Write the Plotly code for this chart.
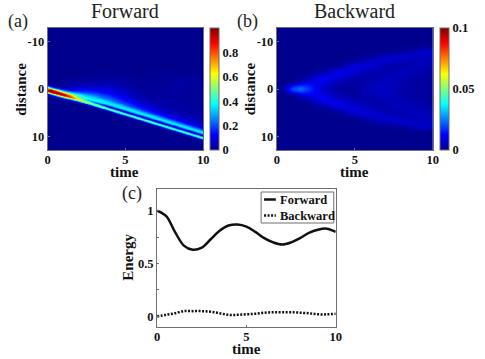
import numpy as np
import plotly.graph_objects as go

W, H = 485, 359
SERIF = "Liberation Serif"
FRAME = "#6e6e6e"

JET = [
    [0, "#00008f"],
    [0.125, "#0000ff"],
    [0.375, "#00ffff"],
    [0.625, "#ffff00"],
    [0.875, "#ff0000"],
    [1, "#800000"],
]

# forward map: rows are offsets from the beam, columns are times
FWD_TIME = [0, 0.5, 1, 1.5, 2, 2.5, 3, 4, 5, 6, 7, 8, 9, 10]
FWD_OFFSET = [-13, -11, -9, -7, -6, -5, -4, -3, -2, -1.5, -1.1, -0.8, -0.5, -0.25, 0, 0.25, 0.5, 0.8, 1.2]
FWD_Z = [
    [0, 0, 0, 0, 0, 0, 0, 0, 0, 0, 0, 0, 0, 0.01],
    [0, 0, 0, 0, 0, 0, 0, 0, 0, 0, 0, 0.01, 0.02, 0.02],
    [0, 0, 0, 0, 0, 0, 0, 0, 0, 0, 0.008, 0.02, 0.012, 0.012],
    [0, 0, 0, 0, 0, 0, 0, 0.008, 0.02, 0.01, 0.012, 0.02, 0.012, 0.015],
    [0, 0, 0, 0, 0, 0, 0, 0.03, 0.03, 0.015, 0.015, 0.022, 0.015, 0.02],
    [0, 0, 0, 0, 0, 0.01, 0.02, 0.05, 0.05, 0.025, 0.02, 0.025, 0.02, 0.025],
    [0, 0, 0, 0.005, 0.015, 0.03, 0.05, 0.09, 0.08, 0.05, 0.035, 0.03, 0.03, 0.03],
    [0, 0, 0.005, 0.02, 0.05, 0.08, 0.12, 0.15, 0.12, 0.09, 0.07, 0.06, 0.06, 0.05],
    [0, 0, 0.01, 0.05, 0.12, 0.2, 0.24, 0.24, 0.2, 0.17, 0.15, 0.13, 0.12, 0.11],
    [0, 0.01, 0.03, 0.12, 0.25, 0.3, 0.33, 0.33, 0.32, 0.3, 0.29, 0.28, 0.27, 0.27],
    [0.06, 0.1, 0.16, 0.3, 0.38, 0.37, 0.37, 0.37, 0.38, 0.38, 0.38, 0.38, 0.38, 0.38],
    [0.3, 0.35, 0.42, 0.5, 0.45, 0.4, 0.38, 0.3, 0.28, 0.26, 0.26, 0.26, 0.26, 0.26],
    [0.7, 0.72, 0.7, 0.65, 0.45, 0.34, 0.22, 0.06, 0.05, 0.05, 0.05, 0.05, 0.05, 0.05],
    [0.95, 0.95, 0.92, 0.78, 0.58, 0.46, 0.36, 0.26, 0.24, 0.24, 0.24, 0.24, 0.24, 0.24],
    [0.98, 0.99, 0.95, 0.8, 0.66, 0.6, 0.56, 0.54, 0.52, 0.52, 0.52, 0.5, 0.5, 0.5],
    [0.88, 0.85, 0.75, 0.55, 0.4, 0.36, 0.33, 0.3, 0.28, 0.28, 0.28, 0.28, 0.28, 0.28],
    [0.5, 0.45, 0.35, 0.22, 0.12, 0.08, 0.06, 0.05, 0.05, 0.05, 0.05, 0.05, 0.05, 0.05],
    [0.1, 0.08, 0.05, 0.03, 0, 0, 0, 0, 0, 0, 0, 0, 0, 0],
    [0, 0, 0, 0, 0, 0, 0, 0, 0, 0, 0, 0, 0, 0],
]

# backward map: rows are |distance|, columns are times
BWD_TIME = [0, 0.5, 1, 1.5, 2, 3, 4, 5, 6, 7, 8, 9, 10]
BWD_DIST = [0, 0.5, 1, 1.5, 2, 3, 4, 5, 6, 7, 8, 9, 10]
BWD_Z = [
    [0, 0.006, 0.02, 0.024, 0.018, 0.006, 0.002, 0.002, 0.005, 0.006, 0.003, 0.002, 0.002],
    [0, 0.002, 0.016, 0.02, 0.016, 0.007, 0.002, 0.002, 0.005, 0.006, 0.003, 0.002, 0.002],
    [0, 0, 0.006, 0.012, 0.013, 0.008, 0.003, 0.002, 0.004, 0.006, 0.003, 0.002, 0.002],
    [0, 0, 0.001, 0.005, 0.009, 0.01, 0.004, 0.002, 0.004, 0.005, 0.004, 0.002, 0.002],
    [0, 0, 0, 0.002, 0.005, 0.012, 0.006, 0.003, 0.003, 0.005, 0.004, 0.002, 0.002],
    [0, 0, 0, 0, 0.001, 0.008, 0.011, 0.005, 0.003, 0.004, 0.005, 0.003, 0.002],
    [0, 0, 0, 0, 0, 0.001, 0.008, 0.009, 0.005, 0.003, 0.005, 0.004, 0.003],
    [0, 0, 0, 0, 0, 0, 0.001, 0.008, 0.008, 0.004, 0.003, 0.005, 0.004],
    [0, 0, 0, 0, 0, 0, 0, 0.001, 0.006, 0.008, 0.005, 0.004, 0.005],
    [0, 0, 0, 0, 0, 0, 0, 0, 0.001, 0.005, 0.007, 0.006, 0.006],
    [0, 0, 0, 0, 0, 0, 0, 0, 0, 0, 0.001, 0.005, 0.007],
    [0, 0, 0, 0, 0, 0, 0, 0, 0, 0, 0, 0, 0.001],
    [0, 0, 0, 0, 0, 0, 0, 0, 0, 0, 0, 0, 0],
]

# energy curves
ENERGY_TIME = [0, 0.5, 1, 1.5, 2, 2.5, 3, 3.5, 4, 4.5, 5, 5.5, 6, 6.5, 7, 7.5, 8, 8.5, 9, 9.5, 10]
ENERGY_FWD = [1, 0.95, 0.8, 0.67, 0.63, 0.65, 0.73, 0.81, 0.86, 0.87, 0.85, 0.8, 0.74, 0.7, 0.68, 0.7, 0.74, 0.79, 0.82, 0.83, 0.8]
ENERGY_BWD = [0, 0.015, 0.03, 0.05, 0.05, 0.05, 0.045, 0.03, 0.015, 0.015, 0.02, 0.025, 0.035, 0.04, 0.04, 0.04, 0.035, 0.03, 0.02, 0.02, 0.025]

T_FINE = np.linspace(0, 10, 201)
D_FINE = np.linspace(-12.8, 12.8, 513)
BEAM_START = 0.3


def resample_forward():
    # the beam runs along d = t + BEAM_START, so smooth along it rather than along the grid
    table = np.array(FWD_Z)
    z = np.zeros((len(D_FINE), len(T_FINE)))
    for j, t in enumerate(T_FINE):
        profile = [np.interp(t, FWD_TIME, row) for row in table]
        z[:, j] = np.interp(D_FINE - (t + BEAM_START), FWD_OFFSET, profile, left=0, right=0)
    return z


def resample_backward():
    table = np.array(BWD_Z)
    z = np.zeros((len(D_FINE), len(T_FINE)))
    for j, t in enumerate(T_FINE):
        profile = [np.interp(t, BWD_TIME, row) for row in table]
        z[:, j] = np.interp(np.abs(D_FINE), BWD_DIST, profile, right=0)
    return z


def px_x(a, b):
    return [a / W, b / W]


def px_y(top, bottom):
    return [1 - bottom / H, 1 - top / H]


bold_font = dict(family=SERIF, size=12.5, color="#111111", weight="bold")
title_font = dict(family=SERIF, size=15, color="#111111", weight="bold")


def colorbar(left, ticks, labels):
    return dict(
        x=left / W,
        xanchor="left",
        xpad=0,
        ypad=0,
        y=1 - 28 / H,
        yanchor="top",
        len=122 / H,
        lenmode="fraction",
        thickness=9,
        thicknessmode="pixels",
        tickmode="array",
        tickvals=ticks,
        ticktext=labels,
        ticks="",
        outlinecolor=FRAME,
        outlinewidth=1,
        tickfont=bold_font,
    )


fig = go.Figure()
fig.add_trace(
    go.Heatmap(
        x=T_FINE,
        y=D_FINE,
        z=resample_forward(),
        zmin=0,
        zmax=1,
        zsmooth="best",
        colorscale=JET,
        colorbar=colorbar(211, [0, 0.2, 0.4, 0.6, 0.8], ["0", "0.2", "0.4", "0.6", "0.8"]),
        xaxis="x",
        yaxis="y",
    )
)
fig.add_trace(
    go.Heatmap(
        x=T_FINE,
        y=D_FINE,
        z=resample_backward(),
        zmin=0,
        zmax=0.1,
        zsmooth="best",
        colorscale=JET,
        colorbar=colorbar(445, [0, 0.05, 0.1], ["0", "0.05", "0.1"]),
        xaxis="x2",
        yaxis="y2",
    )
)
fig.add_trace(
    go.Scatter(
        x=ENERGY_TIME,
        y=ENERGY_FWD,
        mode="lines",
        name="Forward",
        line=dict(color="#111111", width=2.5, shape="spline"),
        showlegend=False,
        xaxis="x3",
        yaxis="y3",
    )
)
fig.add_trace(
    go.Scatter(
        x=ENERGY_TIME,
        y=ENERGY_BWD,
        mode="lines",
        name="Backward",
        line=dict(color="#111111", width=2.5, dash="2px,1.5px", shape="spline"),
        showlegend=False,
        xaxis="x3",
        yaxis="y3",
    )
)

axis_common = dict(
    showgrid=False,
    zeroline=False,
    showline=True,
    mirror=True,
    linecolor=FRAME,
    linewidth=1,
    ticks="inside",
    ticklen=2,
    tickcolor=FRAME,
    tickfont=bold_font,
)


def time_axis(domain, anchor):
    return dict(
        axis_common,
        domain=domain,
        anchor=anchor,
        range=[0, 10],
        tickmode="array",
        tickvals=[0, 5, 10],
        ticktext=["0", "5", "10"],
        ticklabelstandoff=-2,
    )


def distance_axis(domain, anchor):
    return dict(
        axis_common,
        domain=domain,
        anchor=anchor,
        range=[12.8, -12.8],
        tickmode="array",
        tickvals=[-10, 0, 10],
        ticktext=["-10", "0", "10"],
    )


def legend_key(y, dash):
    return dict(type="line", xref="paper", yref="paper", x0=266 / W, x1=278 / W,
                y0=1 - y / H, y1=1 - y / H, line=dict(color="#111111", width=2.5, dash=dash))


def label(text, x, y, font, anchor="center", angle=0):
    return dict(text=text, x=x / W, y=1 - y / H, xref="paper", yref="paper", showarrow=False,
                xanchor=anchor, yanchor="middle", textangle=angle, font=font)


caption_font = dict(family=SERIF, size=20, color="#222222")
panel_font = dict(family=SERIF, size=18, color="#222222")

fig.update_layout(
    width=W,
    height=H,
    margin=dict(l=0, r=0, t=0, b=0),
    paper_bgcolor="white",
    plot_bgcolor="white",
    font=dict(family=SERIF, color="#111111"),
    xaxis=time_axis(px_x(45.5, 204), "y"),
    yaxis=distance_axis(px_y(28, 150), "x"),
    xaxis2=time_axis(px_x(279, 438), "y2"),
    yaxis2=distance_axis(px_y(28, 150), "x2"),
    xaxis3=time_axis(px_x(157, 339), "y3"),
    yaxis3=dict(
        axis_common,
        domain=px_y(189, 327),
        anchor="x3",
        range=[-0.1, 1.205],
        tickmode="array",
        tickvals=[0, 0.25, 0.5, 0.75, 1],
        ticktext=["0", "", "0.5", "", "1"],
    ),
    shapes=[
        dict(type="rect", xref="paper", yref="paper", x0=263 / W, x1=337 / W,
             y0=1 - 223 / H, y1=1 - 192 / H, line=dict(color=FRAME, width=1), fillcolor="white"),
        legend_key(199.5, "solid"),
        legend_key(215.5, "2px,1.5px"),
    ],
    annotations=[
        label("Forward", 124, 11, caption_font),
        label("Backward", 358, 11, caption_font),
        label("(a)", 15, 21, panel_font),
        label("(b)", 249, 21, panel_font),
        label("(c)", 131, 194, panel_font),
        label("time", 124, 172, title_font),
        label("time", 358, 172, title_font),
        label("time", 248, 349, title_font),
        label("distance", 18, 89, title_font, angle=-90),
        label("distance", 252, 89, title_font, angle=-90),
        label("Energy", 127, 257, title_font, angle=-90),
        label("Forward", 280, 199.5, bold_font, anchor="left"),
        label("Backward", 280, 215.5, bold_font, anchor="left"),
    ],
)

fig.write_html(
    "out.html",
    config=dict(displayModeBar=False),
    post_script="document.body.style.margin='0';document.body.style.overflow='hidden';",
)
